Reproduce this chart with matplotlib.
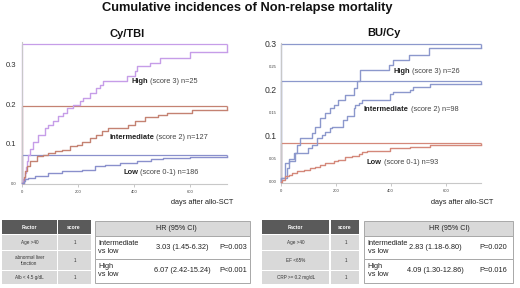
import numpy as np
import matplotlib
matplotlib.use("Agg")
import matplotlib.pyplot as plt
from matplotlib.patches import Rectangle

plt.rcParams['font.family'] = ['Liberation Sans', 'DejaVu Sans']

# ---------------- data ----------------
XMAX = 730
# Cy/TBI
l_high_t = [0, 4, 8, 12, 16, 20, 27, 39, 57, 81, 93, 111, 129, 146, 158, 182, 206, 218, 242, 265, 277, 289, 373, 402, 410, 456, 492, 599]
l_high_v = [0, 0.01, 0.025, 0.04, 0.055, 0.07, 0.085, 0.105, 0.122, 0.139, 0.148, 0.156, 0.169, 0.177, 0.19, 0.198, 0.207, 0.215, 0.228, 0.24, 0.249, 0.258, 0.27, 0.283, 0.295, 0.305, 0.316, 0.332]
l_high_top = 0.353
l_int_t = [0, 5, 10, 15, 27, 51, 75, 93, 117, 140, 170, 194, 212, 242, 265, 283, 307, 379, 402, 438, 486, 516, 605]
l_int_v = [0, 0.015, 0.03, 0.042, 0.055, 0.068, 0.072, 0.076, 0.08, 0.084, 0.093, 0.097, 0.105, 0.114, 0.122, 0.131, 0.139, 0.146, 0.156, 0.167, 0.172, 0.177, 0.185]
l_int_top = 0.196
l_low_t = [0, 5, 10, 21, 45, 93, 140, 212, 259, 295, 350, 408, 460, 503, 599]
l_low_v = [0, 0.006, 0.01, 0.013, 0.019, 0.025, 0.03, 0.034, 0.042, 0.046, 0.05, 0.056, 0.06, 0.063, 0.067]
l_low_top = 0.07
# BU/Cy
r_high_t = [0, 2, 17, 29, 47, 59, 71, 114, 126, 144, 162, 180, 192, 210, 234, 265, 277, 289, 395, 410, 467, 540]
r_high_v = [0, 0.008, 0.041, 0.049, 0.063, 0.08, 0.094, 0.105, 0.12, 0.138, 0.149, 0.16, 0.167, 0.178, 0.189, 0.203, 0.218, 0.242, 0.254, 0.265, 0.276, 0.29]
r_high_top = 0.3
r_int_t = [0, 2, 23, 29, 53, 101, 114, 132, 150, 162, 180, 186, 228, 240, 265, 271, 283, 295, 399, 410, 471, 480, 544]
r_int_v = [0, 0.008, 0.03, 0.044, 0.062, 0.073, 0.08, 0.095, 0.102, 0.109, 0.117, 0.12, 0.135, 0.142, 0.16, 0.167, 0.171, 0.177, 0.19, 0.195, 0.2, 0.205, 0.212]
r_int_top = 0.22
r_low_t = [0, 3, 17, 29, 41, 59, 83, 108, 126, 144, 162, 192, 210, 234, 259, 283, 295, 313, 399, 471, 544]
r_low_v = [0, 0.004, 0.012, 0.015, 0.019, 0.024, 0.026, 0.03, 0.033, 0.037, 0.041, 0.044, 0.048, 0.053, 0.057, 0.061, 0.064, 0.067, 0.073, 0.076, 0.079]
r_low_top = 0.084

x_ticks = [0, 200, 400, 600]
l_yticks = [0.0, 0.1, 0.2, 0.3]
l_ylabels = ['0.0', '0.1', '0.2', '0.3']
r_yticks = [0.0, 0.05, 0.1, 0.15, 0.2, 0.25, 0.3]
r_ylabels = ['0.00', '0.05', '0.1', '0.15', '0.2', '0.25', '0.3']

l_factors = ['Age >40', 'abnormal liver\nfunction', 'Alb < 4.5 g/dL']
r_factors = ['Age >40', 'EF <65%', 'CRP >= 0.2 mg/dL']
scores = ['1', '1', '1']
hr_rows = ['Intermediate\nvs low', 'High\nvs low']
l_hr = ['3.03 (1.45-6.32)', '6.07 (2.42-15.24)']
l_p = ['P=0.003', 'P<0.001']
r_hr = ['2.83 (1.18-6.80)', '4.09 (1.30-12.86)']
r_p = ['P=0.020', 'P=0.016']

C_PURPLE = '#c69de8'
C_BROWN = '#c48272'
C_BLUE_L = '#8a90cc'
C_BLUE_R = '#8c98cc'
C_RED_R = '#d4887a'

W, H = 520, 288
fig = plt.figure(figsize=(5.2, 2.88), dpi=100)
fig.patch.set_facecolor('white')

ov = fig.add_axes([0, 0, 1, 1])
ov.set_xlim(0, W); ov.set_ylim(H, 0)
ov.axis('off'); ov.patch.set_visible(False)
ov.set_zorder(10)


def px_axes(x0, x1, y_top, y_bot):
    a = fig.add_axes([x0 / W, 1 - y_bot / H, (x1 - x0) / W, (y_bot - y_top) / H])
    a.patch.set_visible(False)
    return a


def draw_curve(ax, t, v, top, color):
    tt = list(t) + [XMAX]
    vv = list(v) + [v[-1]]
    ax.step(tt, vv, where='post', color=color, lw=1.0, clip_on=False, zorder=3)
    ax.vlines(XMAX, v[-1], top, color=color, lw=1.0, clip_on=False, zorder=3)
    ax.hlines(top, 0, XMAX, color=color, lw=0.9, clip_on=False, zorder=2)
    ax.vlines(0, 0, top, color=color, lw=0.9, clip_on=False, zorder=2)


def style_axes(ax, ymin, ymax, yticks, ylabels, bigsize, ypad):
    ax.set_xlim(0, XMAX)
    ax.set_ylim(ymin, ymax)
    for s in ['top', 'right']:
        ax.spines[s].set_visible(False)
    for s in ['left', 'bottom']:
        ax.spines[s].set_color('#c8c8c8')
        ax.spines[s].set_linewidth(0.8)
    ax.set_xticks(x_ticks)
    ax.set_xticklabels([str(x) for x in x_ticks], fontsize=3, color='#404040')
    ax.tick_params(axis='x', length=2, width=0.5, color='#b0b0b0', pad=2)
    ax.set_yticks(yticks)
    ax.set_yticklabels(ylabels)
    ax.tick_params(axis='y', length=0, pad=ypad)
    for lab, txt in zip(ax.get_yticklabels(), ylabels):
        if txt in ('0.1', '0.2', '0.3'):
            lab.set_fontsize(bigsize)
            lab.set_color('#303030')
        else:
            lab.set_fontsize(3)
            lab.set_color('#404040')


axL = px_axes(22.3, 226.7, 42.4, 184.2)
style_axes(axL, -0.003, 0.356, l_yticks, l_ylabels, 5.5, 4)
draw_curve(axL, l_high_t, l_high_v, l_high_top, C_PURPLE)
draw_curve(axL, l_int_t, l_int_v, l_int_top, C_BROWN)
draw_curve(axL, l_low_t, l_low_v, l_low_top, C_BLUE_L)

axR = px_axes(280.7, 481.45, 42.8, 183.1)
style_axes(axR, -0.003, 0.302, r_yticks, r_ylabels, 6.2, 3)
draw_curve(axR, r_high_t, r_high_v, r_high_top, C_BLUE_R)
draw_curve(axR, r_int_t, r_int_v, r_int_top, C_BLUE_R)
draw_curve(axR, r_low_t, r_low_v, r_low_top, C_RED_R)

# titles
ov.text(247.5, 8.5, 'Cumulative incidences of Non-relapse mortality', fontsize=9.3,
        fontweight='bold', ha='center', va='center', color='#111111')
ov.text(127.5, 34.3, 'Cy/TBI', fontsize=8, fontweight='bold', ha='center', va='center', color='#111111')
ov.text(383.5, 33.3, 'BU/Cy', fontsize=8, fontweight='bold', ha='center', va='center', color='#111111')
ov.text(202.5, 202, 'days after allo-SCT', fontsize=5.3, ha='center', va='center', color='#222222')
ov.text(462.5, 202, 'days after allo-SCT', fontsize=5.3, ha='center', va='center', color='#222222')


def curve_label(x, y, bold, rest):
    t1 = ov.text(x, y, bold, fontsize=5.4, fontweight='bold', ha='left', va='bottom', color='#222222')
    ov.annotate(rest, xy=(1, 0), xycoords=t1, fontsize=5.3, ha='left', va='bottom', color='#444444')


curve_label(131.7, 85, 'High', ' (score 3) n=25')
curve_label(109, 140.7, 'Intermediate', ' (score 2) n=127')
curve_label(123.3, 176, 'Low', ' (score 0-1) n=186')
curve_label(393.3, 75, 'High', ' (score 3) n=26')
curve_label(364, 113.4, 'Intermediate', ' (score 2) n=98')
curve_label(366.7, 165.7, 'Low', ' (score 0-1) n=93')

# ---------------- tables ----------------
ROWS = [(235, 249.5), (251, 269.5), (271, 283.5)]


def factor_table(x0, xs, x1, factors):
    g = 0.8
    ov.add_patch(Rectangle((x0, 220), xs - x0 - g, 14, fc='#5a5a5a', ec='none'))
    ov.add_patch(Rectangle((xs + g, 220), x1 - xs - g, 14, fc='#5a5a5a', ec='none'))
    ov.text((x0 + xs) / 2, 227.5, 'Factor', fontsize=3.6, fontweight='bold', color='white', ha='center', va='center')
    ov.text((xs + x1) / 2, 227.5, 'score', fontsize=3.6, fontweight='bold', color='white', ha='center', va='center')
    for (ya, yb), f, s in zip(ROWS, factors, scores):
        ov.add_patch(Rectangle((x0, ya), xs - x0 - g, yb - ya, fc='#d9d9d9', ec='none'))
        ov.add_patch(Rectangle((xs + g, ya), x1 - xs - g, yb - ya, fc='#d9d9d9', ec='none'))
        ov.text((x0 + xs) / 2, (ya + yb) / 2, f, fontsize=3.3, color='#333333', ha='center', va='center', linespacing=1.3)
        ov.text((xs + x1) / 2 + 1, (ya + yb) / 2, s, fontsize=3.3, color='#333333', ha='center', va='center')


def hr_table(x0, x1, hdr_cx, lab_x, hr_cx, p_cx, hrs, ps):
    ec = '#a8a8a8'
    ov.add_patch(Rectangle((x0, 220.5), x1 - x0, 15, fc='#d9d9d9', ec=ec, lw=0.7))
    ov.text(hdr_cx, 228, 'HR (95% CI)', fontsize=5.1, color='#222222', ha='center', va='center')
    rows = [(235.5, 258.8), (258.8, 282.5)]
    for (ya, yb), lab, hr, p in zip(rows, hr_rows, hrs, ps):
        ov.add_patch(Rectangle((x0, ya), x1 - x0, yb - ya, fc='white', ec=ec, lw=0.7))
        cy = (ya + yb) / 2
        ov.text(lab_x, cy, lab, fontsize=5.3, color='#222222', ha='left', va='center', linespacing=1.2)
        ov.text(hr_cx, cy, hr, fontsize=5.3, color='#222222', ha='center', va='center')
        ov.text(p_cx, cy, p, fontsize=5.3, color='#222222', ha='center', va='center')


factor_table(1.7, 57.3, 90.5, l_factors)
hr_table(94.7, 250.2, 176, 98, 182.5, 233.5, l_hr, l_p)
factor_table(261.7, 330, 359.3, r_factors)
hr_table(363.5, 513.3, 449, 367.7, 435, 493, r_hr, r_p)

fig.savefig('out.png', dpi=100, facecolor='white')
